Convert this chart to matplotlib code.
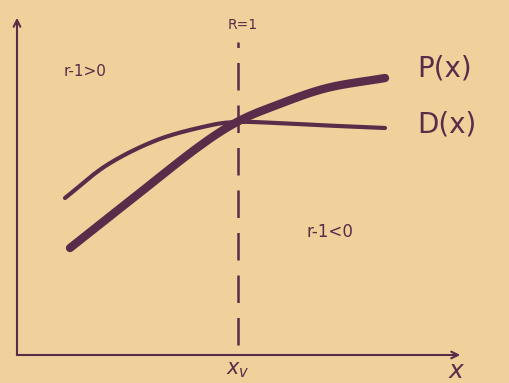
import numpy as np
import matplotlib.pyplot as plt

# curve samples, measured from the origin of the sketch axes
x_p = [53, 120, 180, 220, 260, 310, 368]
p_x = [107, 160, 207, 233, 250, 267, 277]

x_d = [48, 90, 140, 190, 220, 260, 310, 368]
d_x = [157, 190, 215, 229, 233, 232, 229.5, 227]

x_v = 221          # where P(x) and D(x) meet
region_labels = ['r-1>0', 'r-1<0']

paper = '#f0d09b'
ink = '#5a2c4a'


def smooth(xk, yk, n=20):
    """Catmull-Rom spline through the sample points."""
    pts = np.column_stack([xk, yk]).astype(float)
    pts = np.vstack([2 * pts[0] - pts[1], pts, 2 * pts[-1] - pts[-2]])
    out = []
    t = np.linspace(0, 1, n, endpoint=False)[:, None]
    for i in range(1, len(pts) - 2):
        p0, p1, p2, p3 = pts[i - 1], pts[i], pts[i + 1], pts[i + 2]
        seg = 0.5 * (2 * p1 + (p2 - p0) * t + (2 * p0 - 5 * p1 + 4 * p2 - p3) * t ** 2
                     + (3 * p1 - p0 - 3 * p2 + p3) * t ** 3)
        out.append(seg)
    out.append(pts[-2][None, :])
    out = np.vstack(out)
    return out[:, 0], out[:, 1]


fig = plt.figure(figsize=(5.09, 3.83), dpi=100, facecolor=paper)
ax = fig.add_axes([0, 0, 1, 1])
ax.set_facecolor(paper)
ax.set_xlim(-17, 492)
ax.set_ylim(-28, 355)
ax.axis('off')

# hand-drawn axes with arrow heads
ax.annotate('', xy=(0, 340), xytext=(0, -2),
            arrowprops=dict(arrowstyle='->', color=ink, lw=1.5, mutation_scale=12))
ax.annotate('', xy=(446, 0), xytext=(-3, 0),
            arrowprops=dict(arrowstyle='->', color=ink, lw=1.5, mutation_scale=12))

# vertical dashed line through the crossing point
ax.plot([x_v, x_v], [10, 313], color=ink, lw=1.8, ls=(0, (11, 6)))

# curves
ax.plot(*smooth(x_p, p_x), color=ink, lw=6, solid_capstyle='round')
ax.plot(*smooth(x_d, d_x), color=ink, lw=3, solid_capstyle='round')

# labels
ax.text(x_v + 5, 330, 'R=1', color=ink, fontsize=10, ha='center', va='center')
ax.text(68, 283, region_labels[0], color=ink, fontsize=11, ha='center', va='center')
ax.text(313, 123, region_labels[1], color=ink, fontsize=12, ha='center', va='center')
ax.text(400, 287, 'P(x)', color=ink, fontsize=20, ha='left', va='center')
ax.text(400, 230, 'D(x)', color=ink, fontsize=20, ha='left', va='center')
ax.text(x_v, -15, r'$x_v$', color=ink, fontsize=15, ha='center', va='center')
ax.text(440, -16, r'$x$', color=ink, fontsize=18, ha='center', va='center')

fig.savefig('out.png', dpi=100, facecolor=paper)
